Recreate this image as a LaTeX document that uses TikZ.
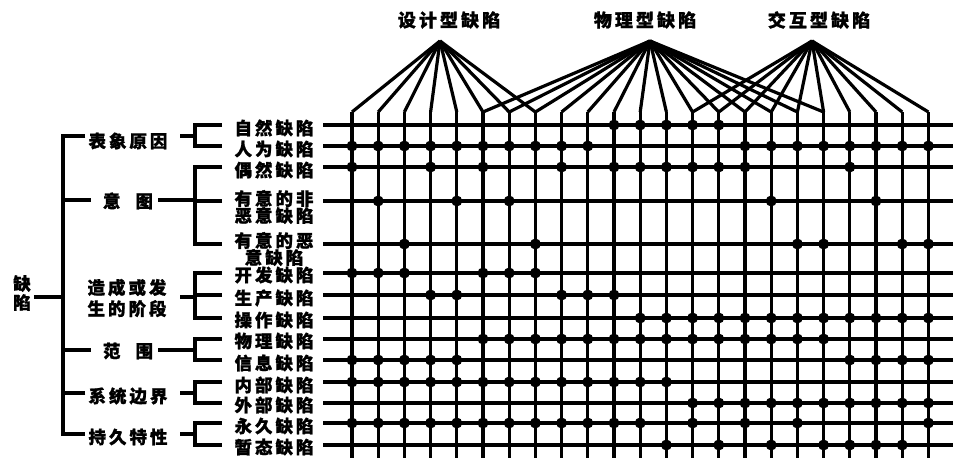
\documentclass[tikz,border=0pt]{standalone}
\usepackage{fontspec}
\newfontfamily\cjk[LetterSpace=17,FakeBold=1.2]{Noto Sans CJK SC}
\begin{document}
\begin{tikzpicture}[x=1bp,y=-1bp,
  ln/.style={line width=3.2bp,line cap=butt,line join=miter},
  lbl/.style={font=\cjk\bfseries\fontsize{17.5bp}{17bp}\selectfont,inner sep=0pt,align=center},
  toplbl/.style={font=\cjk\bfseries\fontsize{18bp}{18bp}\selectfont,inner sep=0pt},
  dot/.style={fill=black}]
\useasboundingbox (0,0) rectangle (953,458);
% columns
\foreach \i in {1,...,23}{
  \pgfmathsetmacro\cx{352+(\i-1)*26.2}
  \coordinate (ct\i) at (\cx,112);
  \coordinate (cb\i) at (\cx,458);
}
% rows
\foreach \yy [count=\j] in {125,146,167,201,244,273,295,318,339,360,382,403,423,445}{
  \coordinate (rs\j) at (323,\yy);
  \coordinate (re\j) at (953,\yy);
}
\foreach \j in {1,...,14}{\draw[ln] (rs\j) -- (re\j);}
\foreach \i in {1,...,23}{\draw[ln] (ct\i) -- (cb\i);}
% group labels and apexes
\node[toplbl] (gD) at (449,20) {设计型缺陷};
\node[toplbl] (gP) at (645,20) {物理型缺陷};
\node[toplbl] (gI) at (819,20) {交互型缺陷};
\coordinate (apD) at (440,41);
\coordinate (apP) at (650,41);
\coordinate (apI) at (812,41);
\foreach \i in {1,...,8}{\draw[ln] (apD) -- (ct\i);}
\foreach \i in {6,...,19}{\draw[ln] (apP) -- (ct\i);}
\foreach \i in {14,...,23}{\draw[ln] (apI) -- (ct\i);}
% dots
\foreach \j/\cols in {
  1/{11,12,13,14,15},
  2/{1,2,3,4,5,6,7,8,9,10,16,17,18,19,20,21,22,23},
  3/{1,4,6,9,11,12,13,14,15,16,20},
  4/{2,5,7,17,21},
  5/{3,8,18,19,22,23},
  6/{1,2,3,6,7,8},
  7/{4,5,9,10,11},
  8/{12,13,14,15,16,17,18,19,20,21,22,23},
  9/{6,7,8,9,10,11,12,13,14,15,16,17,18,19},
  10/{1,2,3,4,5,20,21,22,23},
  11/{1,2,3,4,5,6,7,8,9,10,11,12,13},
  12/{14,15,16,17,18,19,20,21,22,23},
  13/{1,2,3,4,5,6,7,8,9,10,11,12,14,16,18,23},
  14/{13,15,17,19,20,21,22}}{
  \foreach \i in \cols {\fill[dot] (ct\i |- rs\j) circle[radius=5.5bp];}
}
% level-2 labels
\node[lbl] (n1) at (274,128) {自然缺陷};
\node[lbl] (n2) at (274,149) {人为缺陷};
\node[lbl] (n3) at (274,170) {偶然缺陷};
\node[lbl] (n4) at (274,207) {有意的非\\恶意缺陷};
\node[lbl] (n5) at (274,249) {有意的恶\\意缺陷};
\node[lbl] (n6) at (274,275) {开发缺陷};
\node[lbl] (n7) at (274,298) {生产缺陷};
\node[lbl] (n8) at (274,320) {操作缺陷};
\node[lbl] (n9) at (274,341) {物理缺陷};
\node[lbl] (n10) at (274,363) {信息缺陷};
\node[lbl] (n11) at (274,385) {内部缺陷};
\node[lbl] (n12) at (274,405) {外部缺陷};
\node[lbl] (n13) at (274,426) {永久缺陷};
\node[lbl] (n14) at (274,447) {暂态缺陷};
% level-1 labels
\node[lbl] (k1) at (128,141) {表象原因};
\node[lbl] (k2) at (128,201) {意\hspace{15bp}图};
\node[lbl] (k3) at (127,298) {造成或发\\[3bp]生的阶段};
\node[lbl] (k4) at (128,351) {范\hspace{15bp}围};
\node[lbl] (k5) at (128,396) {系统边界};
\node[lbl] (k6) at (128,437) {持久特性};
\node[lbl] (root) at (22,293) {缺\\[2bp]陷};
% tree lines
\coordinate (tt) at (63,136);
\coordinate (tb) at (63,434);
\draw[ln] (root.east) ++(3,4) coordinate (rootE) -- (rootE -| tt);
\draw[ln] (k1.west) ++(-3,-5) coordinate (k1w) (k1w) -- (tt) -- (tb) -- (tb -| k1w);
\draw[ln] (k2.west) ++(-12,-1) coordinate (k2w) (k2w) -- (k2w -| tt);
\draw[ln] (k4.west) ++(-12,-1) coordinate (k4w) (k4w) -- (k4w -| tt);
\draw[ln] (k5.west) ++(-3,-3) coordinate (k5w) (k5w) -- (k5w -| tt);
% brackets level 2
\foreach \k/\a/\b/\yy/\xs in {k1/1/2/136/180,k2/3/5/200/158,k3/6/8/297/180,k4/9/10/350/158,k5/11/12/393/180,k6/13/14/434/180}{
  \draw[ln] (\xs,\yy) -- (195,\yy);
  \draw[ln] (222,0 |- rs\a) -- (195,0 |- rs\a) -- (195,0 |- rs\b) -- (222,0 |- rs\b);
}
\draw[ln] (222,0 |- rs7) -- (195,0 |- rs7);
\draw[ln] (222,0 |- rs4) -- (195,0 |- rs4);
\end{tikzpicture}
\end{document}
